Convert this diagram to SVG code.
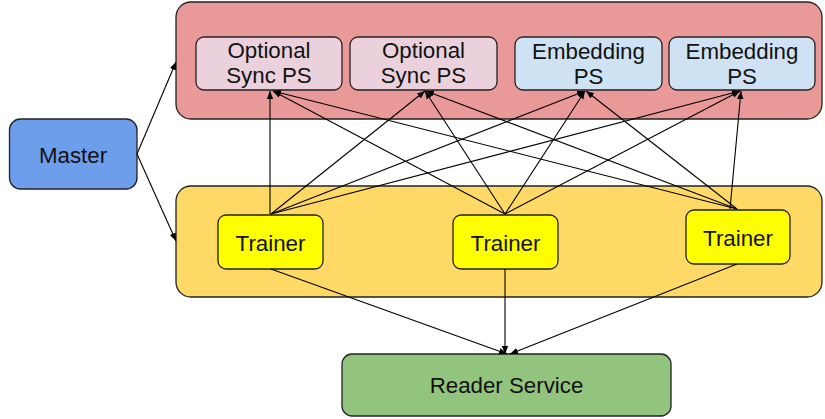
<svg xmlns="http://www.w3.org/2000/svg" width="825" height="419" viewBox="0 0 825 419">
<style>
.box{stroke:#222;stroke-width:1.3}
.t{font-family:"Liberation Sans",Arial,sans-serif;font-size:22.3px;fill:#111;text-anchor:middle}
.c{stroke:#000;stroke-width:1.1;fill:none;marker-end:url(#ah)}
</style>
<defs>
<marker id="ah" viewBox="0 0 10 10" refX="10" refY="5" markerWidth="8" markerHeight="8" markerUnits="userSpaceOnUse" orient="auto">
<path d="M0,1 L10,5 L0,9 z" fill="#000"/>
</marker>
</defs>
<g id="ps-group"><rect class="box" x="176" y="2" width="646" height="117" rx="15" fill="#ea9999"/></g>
<g id="trainer-group"><rect class="box" x="176" y="186" width="646" height="111" rx="15" fill="#ffd966"/></g>
<g id="sync-ps-1"><rect class="box" x="196" y="37" width="146" height="53" rx="8" fill="#ead1dc"/><text class="t" x="269" y="58">Optional</text><text class="t" x="269" y="83">Sync PS</text></g>
<g id="sync-ps-2"><rect class="box" x="350" y="37" width="147" height="53" rx="8" fill="#ead1dc"/><text class="t" x="423.5" y="58">Optional</text><text class="t" x="423.5" y="83">Sync PS</text></g>
<g id="embedding-ps-1"><rect class="box" x="515" y="37" width="147" height="53" rx="8" fill="#cfe2f3"/><text class="t" x="588.5" y="59">Embedding</text><text class="t" x="588.5" y="84">PS</text></g>
<g id="embedding-ps-2"><rect class="box" x="669" y="37" width="146" height="53" rx="8" fill="#cfe2f3"/><text class="t" x="742" y="59">Embedding</text><text class="t" x="742" y="84">PS</text></g>
<g id="master"><rect class="box" x="9.5" y="119" width="127.5" height="70" rx="11" fill="#6d9eeb"/><text class="t" x="73" y="163">Master</text></g>
<g id="trainer-1"><rect class="box" x="218" y="215" width="105" height="54" rx="8" fill="#ffff00"/><text class="t" x="270.5" y="251">Trainer</text></g>
<g id="trainer-2"><rect class="box" x="453" y="215" width="105" height="54" rx="8" fill="#ffff00"/><text class="t" x="505.5" y="251">Trainer</text></g>
<g id="trainer-3"><rect class="box" x="686" y="210" width="104" height="54" rx="8" fill="#ffff00"/><text class="t" x="738" y="246">Trainer</text></g>
<g id="reader-service"><rect class="box" x="342" y="354" width="329" height="62" rx="10" fill="#93c47d"/><text class="t" x="506.5" y="393">Reader Service</text></g>
<g id="connectors">
<path class="c" d="M137,154 L176,62"/>
<path class="c" d="M137,154 L176,241"/>
<path class="c" d="M270,214 L270,91"/>
<path class="c" d="M271,214 L425,91"/>
<path class="c" d="M271,214 L585,91"/>
<path class="c" d="M271,214 L740,91"/>
<path class="c" d="M505,214 L273,91"/>
<path class="c" d="M505,214 L425,91"/>
<path class="c" d="M505,214 L585,91"/>
<path class="c" d="M505,214 L740,91"/>
<path class="c" d="M737,209 L273,91"/>
<path class="c" d="M737,209 L426,91"/>
<path class="c" d="M737,209 L586,91"/>
<path class="c" d="M730,209 L741,91"/>
<path class="c" d="M271,269 L507,354"/>
<path class="c" d="M505,269 L505,354"/>
<path class="c" d="M737,264 L510,354"/>
</g>
</svg>
